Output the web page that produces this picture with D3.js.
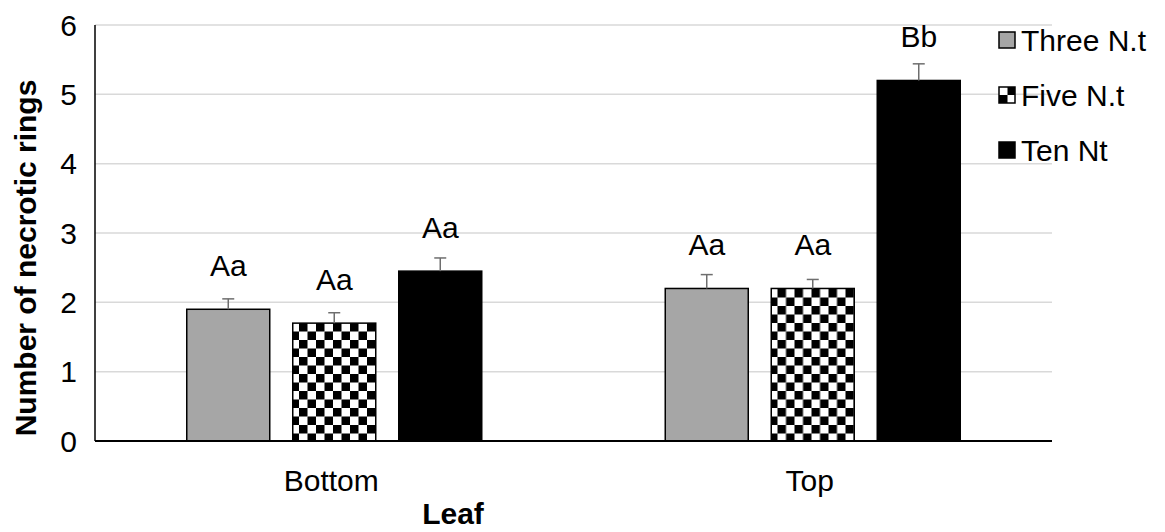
<!DOCTYPE html>
<html>
<head>
<meta charset="utf-8">
<script src="https://cdn.jsdelivr.net/npm/d3@7"></script>
<style>
  body { margin: 0; background: #fff; }
  text { font-family: Arial, "Liberation Sans", sans-serif; fill: #000; }
</style>
</head>
<body>
<div id="chart"></div>
<script>
// Leaf position categories and the three treatments
const categories = ['Bottom', 'Top'];
const series = ['Three N.t', 'Five N.t', 'Ten Nt'];
const values = {
    'Three N.t': [1.9, 2.2],
    'Five N.t': [1.7, 2.2],
    'Ten Nt': [2.45, 5.2]
};
const errors = {
    'Three N.t': [0.15, 0.2],
    'Five N.t': [0.15, 0.13],
    'Ten Nt': [0.19, 0.24]
};
const letters = {
    'Three N.t': ['Aa', 'Aa'],
    'Five N.t': ['Aa', 'Aa'],
    'Ten Nt': ['Aa', 'Bb']
};
const yTicks = [0, 1, 2, 3, 4, 5, 6];

const width = 1165;
const height = 532;
const plot = { left: 95, right: 1052, top: 25, bottom: 441 };
const fontSize = '30px';

const svg = d3.select('#chart')
    .append('svg')
    .attr('width', width)
    .attr('height', height);

// checkerboard fill for "Five N.t"
const defs = svg.append('defs');
const pat = defs.append('pattern')
    .attr('id', 'checker')
    .attr('patternUnits', 'userSpaceOnUse')
    .attr('width', 17)
    .attr('height', 17);
pat.append('rect').attr('width', 17).attr('height', 17).attr('fill', '#fff');
pat.append('rect').attr('width', 8.5).attr('height', 8.5).attr('fill', '#000');
pat.append('rect').attr('x', 8.5).attr('y', 8.5).attr('width', 8.5).attr('height', 8.5).attr('fill', '#000');

const fills = {
    'Three N.t': '#a6a6a6',
    'Five N.t': 'url(#checker)',
    'Ten Nt': '#000'
};

const y = d3.scaleLinear()
    .domain([0, 6])
    .range([plot.bottom, plot.top]);

const x0 = d3.scaleBand()
    .domain(categories)
    .range([plot.left, plot.right]);

const groupW = 295;
const x1 = d3.scaleBand()
    .domain(series)
    .range([(x0.bandwidth() - groupW) / 2, (x0.bandwidth() + groupW) / 2])
    .paddingInner(0.217);

// gridlines
svg.append('g')
    .selectAll('line')
    .data(yTicks.filter(t => t > 0))
    .enter()
    .append('line')
    .attr('x1', plot.left)
    .attr('x2', plot.right)
    .attr('y1', d => y(d))
    .attr('y2', d => y(d))
    .attr('stroke', '#d9d9d9')
    .attr('stroke-width', 1.5);

// y tick labels
svg.append('g')
    .selectAll('text')
    .data(yTicks)
    .enter()
    .append('text')
    .attr('x', 77)
    .attr('y', d => y(d))
    .attr('dy', '0.35em')
    .attr('text-anchor', 'end')
    .style('font-size', fontSize)
    .text(d => d);

// bars
const groups = svg.append('g')
    .selectAll('g')
    .data(categories)
    .enter()
    .append('g')
    .attr('transform', d => `translate(${x0(d)},0)`);

groups.each(function(cat, ci) {
    const g = d3.select(this);
    series.forEach(s => {
        const v = values[s][ci];
        const e = errors[s][ci];
        const bx = x1(s);
        const bw = x1.bandwidth();
        const cx = bx + bw / 2;

        g.append('rect')
            .attr('x', bx)
            .attr('y', y(v))
            .attr('width', bw)
            .attr('height', y(0) - y(v))
            .attr('fill', fills[s])
            .attr('stroke', '#000')
            .attr('stroke-width', 1.5);

        // error bar (upper only)
        g.append('line')
            .attr('x1', cx).attr('x2', cx)
            .attr('y1', y(v)).attr('y2', y(v + e))
            .attr('stroke', '#6e6e6e')
            .attr('stroke-width', 1.5);
        g.append('line')
            .attr('x1', cx - 6).attr('x2', cx + 6)
            .attr('y1', y(v + e)).attr('y2', y(v + e))
            .attr('stroke', '#6e6e6e')
            .attr('stroke-width', 1.5);

        // significance letters
        g.append('text')
            .attr('x', cx)
            .attr('y', y(v) - 33)
            .attr('text-anchor', 'middle')
            .style('font-size', fontSize)
            .text(letters[s][ci]);
    });
});

// axes lines
svg.append('line')
    .attr('x1', plot.left).attr('x2', plot.left)
    .attr('y1', plot.top).attr('y2', plot.bottom)
    .attr('stroke', '#000')
    .attr('stroke-width', 1.5);
svg.append('line')
    .attr('x1', plot.left).attr('x2', plot.right)
    .attr('y1', plot.bottom).attr('y2', plot.bottom)
    .attr('stroke', '#000')
    .attr('stroke-width', 2);

// category labels
svg.append('g')
    .selectAll('text')
    .data(categories)
    .enter()
    .append('text')
    .attr('x', d => x0(d) + x0.bandwidth() / 2 - 3)
    .attr('y', 491)
    .attr('text-anchor', 'middle')
    .style('font-size', fontSize)
    .text(d => d);

// axis titles
svg.append('text')
    .attr('x', 453)
    .attr('y', 524)
    .attr('text-anchor', 'middle')
    .style('font-size', fontSize)
    .style('font-weight', 'bold')
    .text('Leaf');

svg.append('text')
    .attr('transform', `translate(36,${(plot.top + plot.bottom) / 2 + 25}) rotate(-90)`)
    .attr('text-anchor', 'middle')
    .style('font-size', fontSize)
    .style('font-weight', 'bold')
    .text('Number of necrotic rings');

// legend
const legend = svg.append('g')
    .attr('transform', 'translate(999, 40)');

series.forEach((s, i) => {
    const row = legend.append('g')
        .attr('transform', `translate(0, ${i * 55})`);
    row.append('rect')
        .attr('x', 0)
        .attr('y', -8)
        .attr('width', 16)
        .attr('height', 16)
        .attr('fill', fills[s])
        .attr('stroke', '#000')
        .attr('stroke-width', 1.5);
    row.append('text')
        .attr('x', 22)
        .attr('y', 0)
        .attr('dy', '0.35em')
        .style('font-size', fontSize)
        .text(s);
});
</script>
</body>
</html>
